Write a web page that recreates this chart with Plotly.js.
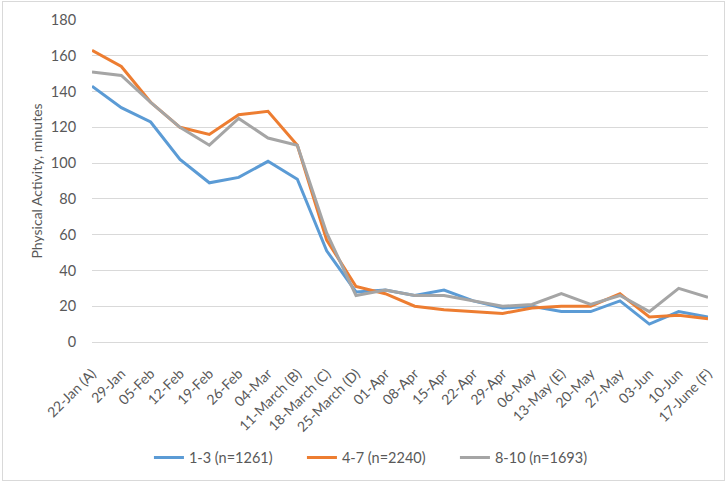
<!DOCTYPE html>
<html>
<head>
<meta charset="utf-8">
<script src="https://cdn.plot.ly/plotly-3.0.1.min.js"></script>
<style>
  html, body { margin: 0; padding: 0; background: #fff; }
  #wrap { position: relative; width: 728px; height: 484px; }
  #chart { width: 728px; height: 484px; }
  #frame { position: absolute; left: 2px; top: 1px; width: 721px; height: 478px; border: 1px solid #d9d9d9; pointer-events: none; }
</style>
</head>
<body>
<div id="wrap"><div id="chart"></div><div id="frame"></div></div>
<script>
const categories = ["22-Jan (A)", "29-Jan", "05-Feb", "12-Feb", "19-Feb", "26-Feb", "04-Mar",
  "11-March (B)", "18-March (C)", "25-March (D)", "01-Apr", "08-Apr", "15-Apr", "22-Apr",
  "29-Apr", "06-May", "13-May (E)", "20-May", "27-May", "03-Jun", "10-Jun", "17-June (F)"];

const seriesNames = ["1-3 (n=1261)", "4-7 (n=2240)", "8-10 (n=1693)"];

const group1_3 = [143, 131, 123, 102, 89, 92, 101, 91, 51, 28, 29, 26, 29, 23, 19, 20, 17, 17, 23, 10, 17, 14];
const group4_7 = [163, 154, 134, 120, 116, 127, 129, 110, 57, 31, 27, 20, 18, 17, 16, 19, 20, 20, 27, 14, 15, 13];
const group8_10 = [151, 149, 134, 120, 110, 125, 114, 110, 61, 26, 29, 26, 26, 23, 20, 21, 27, 21, 26, 17, 30, 25];

const colors = ["#5B9BD5", "#ED7D31", "#A5A5A5"];
const allSeries = [group1_3, group4_7, group8_10];

const traces = allSeries.map((vals, i) => ({
  type: "scatter",
  mode: "lines",
  x: categories,
  y: vals,
  name: seriesNames[i],
  line: { color: colors[i], width: 3 }
}));

const font = "Lato, 'Open Sans', sans-serif";

const layout = {
  width: 728,
  height: 484,
  margin: { l: 92, r: 20, t: 20, b: 141 },
  paper_bgcolor: "#ffffff",
  plot_bgcolor: "#ffffff",
  font: { family: font, color: "#595959", size: 14 },
  showlegend: true,
  legend: {
    orientation: "h",
    x: 0.465, xanchor: "center",
    y: -0.355, yanchor: "middle",
    font: { family: font, size: 14.5, color: "#595959" },
    itemwidth: 30,
    entrywidth: 108
  },
  xaxis: {
    type: "category",
    tickangle: -45,
    tickfont: { family: font, size: 14, color: "#595959" },
    showgrid: false,
    showline: true,
    linecolor: "#d9d9d9",
    linewidth: 1,
    ticks: "outside",
    ticklen: 17,
    tickcolor: "rgba(0,0,0,0)",
    fixedrange: true
  },
  yaxis: {
    range: [0, 180],
    dtick: 20,
    tickfont: { family: font, size: 14.5, color: "#595959" },
    gridcolor: "#d9d9d9",
    gridwidth: 1,
    zeroline: false,
    showline: false,
    ticks: "outside",
    ticklen: 12,
    tickcolor: "rgba(0,0,0,0)",
    title: { text: "Physical Activity, minutes", font: { family: font, size: 14, color: "#595959" }, standoff: 4 },
    fixedrange: true
  }
};

Plotly.newPlot("chart", traces, layout, { displayModeBar: false, staticPlot: true });
</script>
</body>
</html>
